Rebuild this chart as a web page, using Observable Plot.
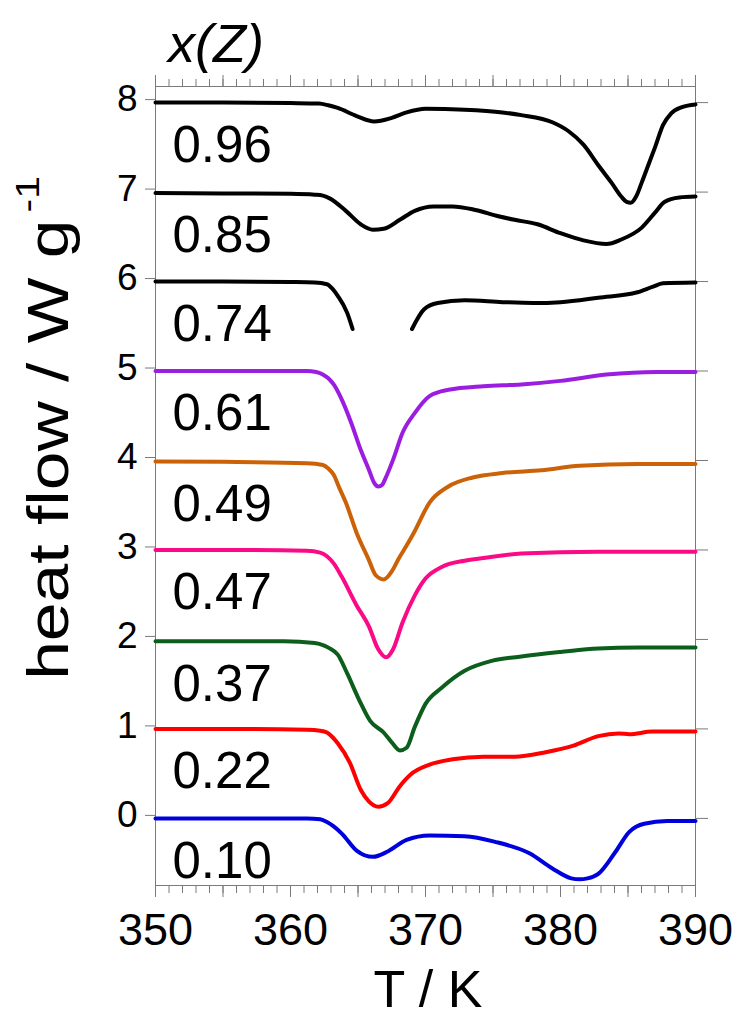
<!DOCTYPE html>
<html>
<head>
<meta charset="utf-8">
<script src="https://cdn.jsdelivr.net/npm/d3@7"></script>
<script src="https://cdn.jsdelivr.net/npm/@observablehq/plot@0.6"></script>
<style>
  body { margin: 0; background: #fff; }
  #chart svg { display: block; }
</style>
</head>
<body>
<div id="chart"></div>
<script>
// ---------- data ----------
const compositions = ["0.96", "0.85", "0.74", "0.61", "0.49", "0.47", "0.37", "0.22", "0.10"];
const colors = ["#000000", "#000000", "#000000", "#9b1de0", "#cc6208", "#fa0a86", "#0c5e1c", "#ff0000", "#0000dc"];

const T_096 = [350, 355, 360, 362.1, 362.8, 363.5, 364.9, 366.2, 367.5, 368.6, 370.0, 372.9, 375.7, 377.1, 379.4, 380.6, 381.7, 382.8, 383.8, 384.5, 384.9, 385.2, 385.6, 386.0, 386.5, 387.0, 387.6, 388.2, 389.0, 390];
const HF_096 = [8.0, 8.0, 7.995, 7.99, 7.97, 7.94, 7.85, 7.79, 7.83, 7.89, 7.93, 7.92, 7.89, 7.86, 7.78, 7.68, 7.53, 7.30, 7.10, 6.95, 6.89, 6.88, 6.95, 7.10, 7.30, 7.50, 7.75, 7.88, 7.95, 7.98];

const T_085 = [350, 355, 360, 361.8, 362.4, 362.9, 364.1, 365.2, 366.1, 366.9, 368.1, 369.2, 370.6, 372.0, 373.7, 375.4, 376.6, 378.3, 380.0, 381.7, 383.4, 384.5, 386.0, 387.0, 387.7, 388.8, 390];
const HF_085 = [6.99, 6.985, 6.98, 6.97, 6.96, 6.93, 6.79, 6.64, 6.58, 6.59, 6.69, 6.79, 6.84, 6.84, 6.80, 6.73, 6.69, 6.64, 6.54, 6.46, 6.42, 6.47, 6.60, 6.77, 6.89, 6.94, 6.95];

const T_074 = [350, 355, 360, 361.8, 362.7, 363.1, 363.5, 364.2, 364.6, 366.8, 369.0, 369.9, 370.9, 372.9, 375.7, 378.0, 380.0, 382.8, 385.7, 386.8, 387.6, 390];
const HF_074 = [6.0, 6.0, 5.995, 5.99, 5.97, 5.92, 5.84, 5.65, 5.47, NaN, 5.47, 5.69, 5.76, 5.79, 5.77, 5.76, 5.77, 5.82, 5.88, 5.94, 5.98, 5.99];

const T_061 = [350, 355, 361.2, 361.9, 362.4, 362.8, 363.2, 363.8, 364.5, 365.2, 365.8, 366.2, 366.5, 366.8, 367.0, 367.6, 368.3, 369.2, 370.3, 371.7, 374.3, 377.1, 380.0, 383.4, 387.1, 390];
const HF_061 = [5.0, 5.0, 5.0, 4.99, 4.96, 4.92, 4.85, 4.68, 4.42, 4.12, 3.90, 3.75, 3.71, 3.73, 3.79, 4.01, 4.31, 4.53, 4.72, 4.79, 4.83, 4.85, 4.89, 4.96, 4.99, 4.99];

const T_049 = [350, 355, 361.2, 362.4, 362.8, 363.2, 363.6, 364.1, 364.9, 365.8, 366.3, 366.9, 367.5, 368.0, 368.6, 369.2, 370.3, 371.7, 373.5, 375.7, 378.6, 381.4, 385.7, 390];
const HF_049 = [3.99, 3.985, 3.97, 3.95, 3.91, 3.84, 3.70, 3.53, 3.19, 2.89, 2.72, 2.67, 2.76, 2.90, 3.05, 3.21, 3.53, 3.71, 3.81, 3.86, 3.89, 3.94, 3.96, 3.96];

const T_047 = [350, 355, 361.2, 362.2, 362.7, 363.2, 363.8, 364.9, 365.8, 366.5, 367.1, 367.6, 368.3, 369.2, 370.0, 371.2, 372.9, 374.3, 377.1, 382.8, 390];
const HF_047 = [3.0, 3.0, 2.99, 2.97, 2.93, 2.85, 2.70, 2.38, 2.15, 1.89, 1.80, 1.89, 2.19, 2.49, 2.68, 2.81, 2.88, 2.91, 2.96, 2.98, 2.98];

const T_037 = [350, 355, 359.5, 361.8, 362.5, 362.9, 363.5, 364.2, 365.1, 365.9, 366.9, 367.5, 368.1, 368.6, 369.2, 370.0, 371.2, 372.9, 374.9, 377.1, 380.0, 382.8, 385.7, 390];
const HF_037 = [1.98, 1.98, 1.98, 1.96, 1.93, 1.90, 1.83, 1.62, 1.32, 1.09, 0.96, 0.85, 0.76, 0.79, 1.02, 1.28, 1.46, 1.65, 1.76, 1.81, 1.86, 1.90, 1.91, 1.91];

const T_022 = [350, 355, 361.2, 362.2, 362.7, 363.1, 363.5, 364.4, 365.2, 365.8, 366.5, 367.2, 368.1, 368.9, 370.3, 372.0, 374.3, 376.6, 378.9, 380.9, 382.8, 384.3, 385.1, 386.8, 390];
const HF_022 = [1.0, 1.0, 0.99, 0.98, 0.96, 0.91, 0.84, 0.62, 0.32, 0.19, 0.13, 0.17, 0.36, 0.49, 0.60, 0.66, 0.69, 0.69, 0.74, 0.81, 0.92, 0.95, 0.94, 0.97, 0.97];

const T_010 = [350, 355, 361.2, 362.2, 362.7, 363.2, 363.8, 364.9, 366.1, 367.2, 368.6, 370.3, 372.9, 375.1, 377.7, 379.4, 380.8, 381.4, 382.0, 382.8, 384.0, 385.1, 386.2, 387.9, 390];
const HF_010 = [0.0, 0.0, 0.0, -0.01, -0.04, -0.09, -0.17, -0.36, -0.43, -0.37, -0.24, -0.19, -0.20, -0.26, -0.39, -0.56, -0.67, -0.68, -0.67, -0.62, -0.39, -0.15, -0.06, -0.03, -0.03];

const temps = [T_096, T_085, T_074, T_061, T_049, T_047, T_037, T_022, T_010];
const flows = [HF_096, HF_085, HF_074, HF_061, HF_049, HF_047, HF_037, HF_022, HF_010];

const xMinorTicks = d3.range(350, 391, 1);
const xMajorTicks = d3.range(350, 391, 5);
const xTickLabels = [350, 360, 370, 380, 390];
const yTicks = [0, 1, 2, 3, 4, 5, 6, 7, 8];

// ---------- tables built from the arrays ----------
const rows = [];
compositions.forEach((c, i) => temps[i].forEach((t, j) => rows.push({comp: c, T: t, HF: flows[i][j]})));
const labelRows = compositions.map((c, i) => ({comp: c, base: flows[i][0]}));

// ---------- chart ----------
const axisColor = "#7a7a7a";
const font = '"Liberation Sans", Arial, Helvetica, sans-serif';
const blank = () => "";

const chart = Plot.plot({
  width: 740,
  height: 1018,
  marginLeft: 155,
  marginRight: 45,
  marginTop: 86,
  marginBottom: 133,
  style: {fontFamily: font, background: "#fff", color: "#000", overflow: "visible"},
  x: {domain: [350, 390]},
  y: {domain: [-0.75, 8.18]},
  color: {domain: compositions, range: colors},
  marks: [
    Plot.axisX({ticks: xMinorTicks, anchor: "bottom", tickSize: 8, tickFormat: blank, stroke: axisColor, label: null}),
    Plot.axisX({ticks: xMajorTicks, anchor: "bottom", tickSize: 12, tickFormat: blank, stroke: axisColor, label: null}),
    Plot.axisX({ticks: xMinorTicks, anchor: "top", tickSize: 8, tickFormat: blank, stroke: axisColor, label: null}),
    Plot.axisX({ticks: xMajorTicks, anchor: "top", tickSize: 12, tickFormat: blank, stroke: axisColor, label: null}),
    Plot.axisX({ticks: xTickLabels, anchor: "bottom", tickSize: 0, tickPadding: 28, fontSize: 45, label: null, ariaLabel: "xlabels"}),
    Plot.axisY({ticks: yTicks, anchor: "left", tickSize: 10, tickPadding: 8, fontSize: 37, stroke: axisColor, label: null, dy: -3}),
    Plot.axisY({ticks: yTicks, anchor: "right", tickSize: 12, tickFormat: blank, stroke: axisColor, label: null}),
    Plot.frame({stroke: axisColor, strokeWidth: 1}),
    Plot.line(rows, {x: "T", y: "HF", z: "comp", stroke: "comp", strokeWidth: 4, curve: "monotone-x"}),
    Plot.text(labelRows, {y: "base", text: "comp", frameAnchor: "left", textAnchor: "start", dx: 17, dy: 43, fontSize: 51, fill: "#000"})
  ]
});

document.getElementById("chart").appendChild(chart);

// vertically stretched tick numerals, as in the original
const svg = d3.select(chart);
svg.selectAll('g[aria-label="xlabels"] text, g[aria-label="x-axis tick label"] text').each(function () {
  const el = d3.select(this);
  const tr = el.attr("transform");
  if (tr) el.attr("transform", tr + " scale(1,1.3)");
});

// titles
svg.append("text")
  .attr("x", 168).attr("y", 62)
  .attr("text-anchor", "start")
  .attr("font-family", font).attr("font-size", 54).attr("font-style", "italic")
  .attr("fill", "#000")
  .text("x(Z)");

svg.append("text")
  .attr("x", 428).attr("y", 1007)
  .attr("text-anchor", "middle")
  .attr("font-family", font).attr("font-size", 52)
  .attr("fill", "#000")
  .text("T / K");

const yl = svg.append("text")
  .attr("transform", "translate(68,428) rotate(-90) scale(1.2,1)")
  .attr("text-anchor", "middle")
  .attr("font-family", font).attr("font-size", 58)
  .attr("fill", "#000");
yl.append("tspan").text("heat flow / W g");
yl.append("tspan").attr("dx", 6).attr("dy", -29).attr("font-size", 34).text("-1");
</script>
</body>
</html>
